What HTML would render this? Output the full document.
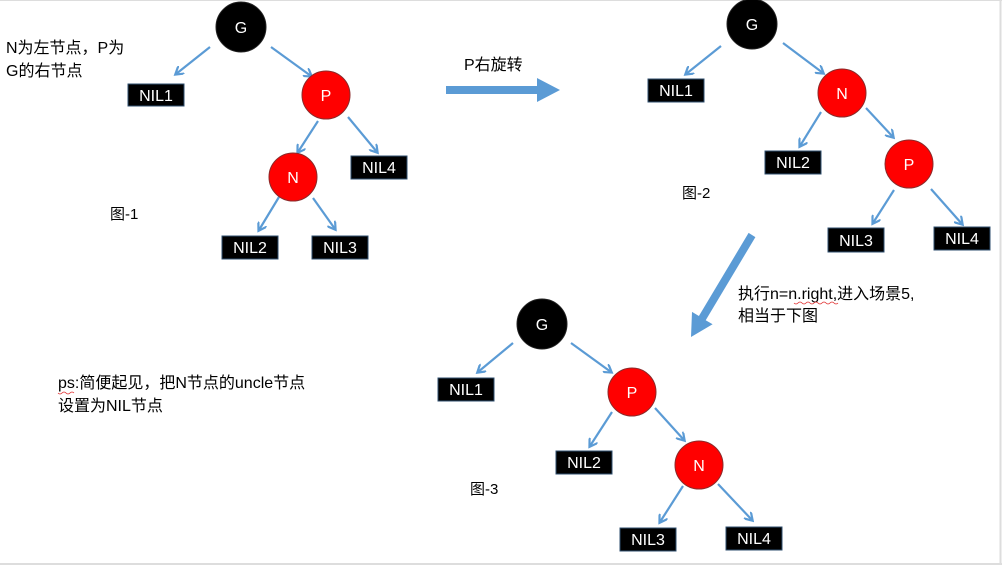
<!DOCTYPE html>
<html><head><meta charset="utf-8"><style>
html,body{margin:0;padding:0;background:#fff;}
svg{display:block;}
text{font-family:"Liberation Sans","Noto Sans CJK SC",sans-serif;}
</style></head><body>
<svg width="1002" height="565" viewBox="0 0 1002 565" xmlns="http://www.w3.org/2000/svg">
<defs>
<marker id="a" markerWidth="10" markerHeight="10" refX="7" refY="5" orient="auto" markerUnits="userSpaceOnUse">
<path d="M0,0 L8,5 L0,10" fill="none" stroke="#5b9bd5" stroke-width="2.2"/>
</marker>
</defs>
<rect x="0" y="0" width="1002" height="565" fill="#fff"/>
<line x1="0" y1="0.5" x2="1002" y2="0.5" stroke="#ddd"/>
<line x1="1000.5" y1="0" x2="1000.5" y2="565" stroke="#ddd" stroke-width="2"/>
<line x1="0" y1="564" x2="1002" y2="564" stroke="#ddd" stroke-width="2"/>

<g stroke="#5b9bd5" stroke-width="2.2" marker-end="url(#a)">
<!-- fig1 -->
<line x1="210" y1="47" x2="176" y2="74"/>
<line x1="271" y1="47" x2="311" y2="76"/>
<line x1="318" y1="121" x2="298" y2="152"/>
<line x1="348" y1="117" x2="377" y2="152"/>
<line x1="279" y1="197" x2="259" y2="230"/>
<line x1="313" y1="198" x2="335" y2="229"/>
<!-- fig2 -->
<line x1="721" y1="46" x2="686" y2="74"/>
<line x1="783" y1="43" x2="823" y2="73"/>
<line x1="821" y1="112" x2="800" y2="146"/>
<line x1="866" y1="108" x2="893" y2="137"/>
<line x1="894" y1="190" x2="873" y2="223"/>
<line x1="931" y1="189" x2="962" y2="224"/>
<!-- fig3 -->
<line x1="513" y1="343" x2="478" y2="372"/>
<line x1="571" y1="343" x2="611" y2="372"/>
<line x1="612" y1="412" x2="590" y2="446"/>
<line x1="655" y1="408" x2="684" y2="440"/>
<line x1="683" y1="486" x2="660" y2="522"/>
<line x1="718" y1="484" x2="752" y2="520"/>
</g>

<!-- big arrows -->
<polygon points="446,86 537,86 537,78 560,90 537,102 537,94 446,94" fill="#5b9bd5"/>
<polygon points="755.4,237.1 705.7,320.2 712.6,324.3 691,337 692,311.9 698.9,316 748.6,232.9" fill="#5b9bd5"/>

<!-- circles -->
<g stroke="#8a2a2a" stroke-width="1">
<circle cx="241" cy="27" r="25" fill="#000" stroke="#222"/>
<circle cx="326" cy="95" r="24" fill="#ff0000"/>
<circle cx="293" cy="177" r="24" fill="#ff0000"/>
<circle cx="752" cy="24" r="25" fill="#000" stroke="#222"/>
<circle cx="842" cy="93" r="24" fill="#ff0000"/>
<circle cx="909" cy="164" r="24" fill="#ff0000"/>
<circle cx="542" cy="324" r="25" fill="#000" stroke="#222"/>
<circle cx="632" cy="392" r="24" fill="#ff0000"/>
<circle cx="699" cy="465" r="24" fill="#ff0000"/>
</g>
<g fill="#fff" font-size="16" text-anchor="middle">
<text x="241" y="33">G</text><text x="326" y="101">P</text><text x="293" y="183">N</text>
<text x="752" y="30">G</text><text x="842" y="99">N</text><text x="909" y="170">P</text>
<text x="542" y="330">G</text><text x="632" y="398">P</text><text x="699" y="471">N</text>
</g>

<!-- NIL boxes -->
<g fill="#000" stroke="#2f4f6f" stroke-width="1">
<rect x="128" y="84" width="56" height="22"/>
<rect x="351" y="156" width="56" height="23"/>
<rect x="222" y="236" width="56" height="23"/>
<rect x="312" y="236" width="56" height="23"/>
<rect x="648" y="79" width="56" height="23"/>
<rect x="765" y="151" width="56" height="23"/>
<rect x="828" y="228" width="56" height="24"/>
<rect x="934" y="227" width="56" height="23"/>
<rect x="438" y="378" width="56" height="23"/>
<rect x="556" y="451" width="56" height="23"/>
<rect x="620" y="528" width="56" height="23"/>
<rect x="726" y="527" width="56" height="23"/>
</g>
<g fill="#fff" font-size="16" text-anchor="middle">
<text x="156" y="101">NIL1</text><text x="379" y="173">NIL4</text>
<text x="250" y="253">NIL2</text><text x="340" y="253">NIL3</text>
<text x="676" y="96">NIL1</text><text x="793" y="168">NIL2</text>
<text x="856" y="246">NIL3</text><text x="962" y="244">NIL4</text>
<text x="466" y="395">NIL1</text><text x="584" y="468">NIL2</text>
<text x="648" y="545">NIL3</text><text x="754" y="544">NIL4</text>
</g>

<!-- labels -->
<g fill="#000" font-size="16">
<text x="6" y="53">N为左节点，P为</text>
<text x="6" y="76">G的右节点</text>
<text x="110" y="219" font-size="15">图-1</text>
<text x="464" y="70">P右旋转</text>
<text x="682" y="198" font-size="15">图-2</text>
<text x="738" y="299">执行n=n.right,进入场景5,</text>
<text x="738" y="321">相当于下图</text>
<text x="470" y="494" font-size="15">图-3</text>
<text x="58" y="388">ps:简便起见，把N节点的uncle节点</text>
<text x="58" y="411">设置为NIL节点</text>
</g>
<path d="M794,303 q2,2 4,0 t4,0 t4,0 t4,0 t4,0 t4,0 t4,0 t4,0 t4,0 t4,0 t4,0" fill="none" stroke="#e03030" stroke-width="0.8"/>
<path d="M58,393 q2,2 4,0 t4,0 t4,0 t4,0" fill="none" stroke="#e03030" stroke-width="0.8"/>
</svg>
</body></html>
